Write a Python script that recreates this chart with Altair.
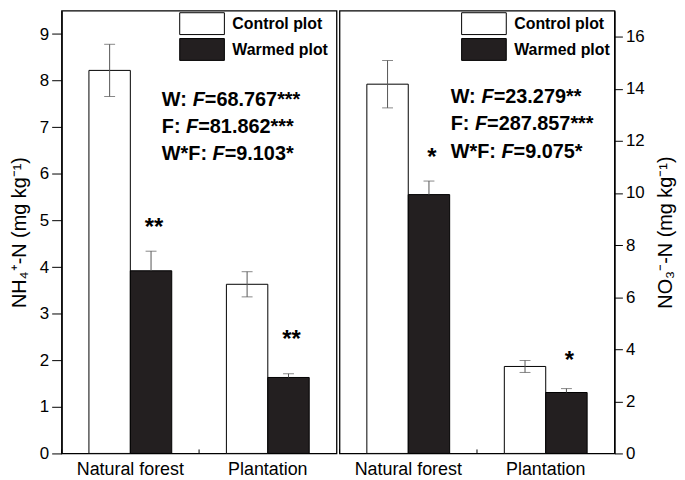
import altair as alt
import pandas as pd

FONT = "Liberation Sans"

sites = ["Natural forest", "Plantation"]
treatments = ["Control plot", "Warmed plot"]

# order: NF-control, NF-warmed, P-control, P-warmed
nh4_mean = [8.22, 3.92, 3.63, 1.63]
nh4_err = [0.56, 0.42, 0.27, 0.08]
nh4_sig = ["", "**", "", "**"]
nh4_sig_y = [0.0, 4.83, 0.0, 2.44]

no3_mean = [14.18, 9.94, 3.34, 2.34]
no3_err = [0.91, 0.52, 0.23, 0.15]
no3_sig = ["", "*", "", "*"]
no3_sig_y = [0.0, 11.36, 0.0, 3.54]

nh4_stats = [("W: ", "F", "=68.767***"), ("F: ", "F", "=81.862***"), ("W*F: ", "F", "=9.103*")]
no3_stats = [("W: ", "F", "=23.279**"), ("F: ", "F", "=287.857***"), ("W*F: ", "F", "=9.075*")]

nh4_title = "NH\u2084\u207a-N (mg kg\u207b\u00b9)"
no3_title = "NO\u2083\u207b-N (mg kg\u207b\u00b9)"

nh4_ticks = [0, 0.5, 1, 1.5, 2, 2.5, 3, 3.5, 4, 4.5, 5, 5.5, 6, 6.5, 7, 7.5, 8, 8.5, 9]
no3_ticks = list(range(0, 17))

W = 277
H = 446

COLOR_SCALE = alt.Scale(domain=treatments, range=["white", "#231f20"])

# Arial/Liberation Sans Bold advance widths (per 1000 em)
ADV = {"W": 944, ":": 333, " ": 278, "F": 611, "*": 389, "=": 584, ".": 278}
def text_w(s, size):
    return sum(ADV.get(c, 556) for c in s) * size / 1000.0


def panel(mean, err, sig, sig_y, stats, title, ymax, tick_vals, major_mod,
          major_len, minor_len, orient, legend_x, stats_x, stats_y, line_gap):
    rows = []
    k = 0
    for s in sites:
        for t in treatments:
            m, e = mean[k], err[k]
            rows.append(dict(site=s, treatment=t, value=m, err=e,
                             lo=(m - e) if t == treatments[0] else m,
                             hi=m + e, sig=sig[k], sig_y=sig_y[k]))
            k += 1
    df = pd.DataFrame(rows)

    x = alt.X("site:N", sort=sites,
              scale=alt.Scale(paddingInner=0, paddingOuter=0),
              axis=alt.Axis(title=None, labelAngle=0, labelFontSize=18,
                            domain=False, ticks=False, labelPadding=7,
                            labelFont=FONT, labelColor="black"))
    xo = alt.XOffset("treatment:N", sort=treatments,
                     scale=alt.Scale(paddingInner=0, paddingOuter=0.66))

    cond_test = f"datum.value % {major_mod} === 0"
    extra = {"titleAngle": 270, "titleBaseline": "top", "titlePadding": 12} if orient == "right" \
        else {"titlePadding": 10}
    yaxis = alt.Axis(
        title=title, orient=orient, values=tick_vals, grid=False,
        labelExpr=f"{cond_test} ? datum.label : ''",
        tickSize={"condition": {"test": cond_test, "value": major_len}, "value": minor_len},
        labelFontSize=17, titleFontSize=20, titleFontWeight="normal",
        labelPadding=3, labelFont=FONT, titleFont=FONT,
        domainColor="black", tickColor="black", labelColor="black",
        titleColor="black", domainWidth=1.3, tickWidth=1,
        **extra,
    )
    y = alt.Y("value:Q", scale=alt.Scale(domain=[0, ymax], nice=False, zero=True), axis=yaxis)

    base = alt.Chart(df).encode(x=x, xOffset=xo)

    bars = base.mark_bar(stroke="black", strokeWidth=1).encode(
        y=y,
        color=alt.Color("treatment:N", sort=treatments, scale=COLOR_SCALE, legend=None),
    )
    ecol = "#555555"
    rule = base.mark_rule(color=ecol, strokeWidth=1).encode(y="lo:Q", y2="hi:Q")
    cap_hi = base.mark_tick(color=ecol, size=11, thickness=1).encode(y="hi:Q")
    cap_lo = base.transform_filter(alt.datum.treatment == treatments[0]).mark_tick(
        color=ecol, size=11, thickness=1).encode(y="lo:Q")
    stars = base.transform_filter(alt.datum.sig != "").mark_text(
        font=FONT, fontSize=24, fontWeight="bold", baseline="middle", dx=3, dy=0,
        color="black").encode(y="sig_y:Q", text="sig:N")

    bticks = alt.Chart(pd.DataFrame({"site": sites})).mark_rule(
        color="black", strokeWidth=1).encode(
        x=alt.X("site:N", sort=sites, bandPosition=0),
        y=alt.value(H - 4), y2=alt.value(H))

    layers = [bars, rule, cap_hi, cap_lo, stars, bticks]

    # legend (key boxes + labels, filled through the same colour scale)
    for i, t in enumerate(treatments):
        y0 = 2 + i * 26
        ld = pd.DataFrame({"treatment": [t]})
        layers.append(alt.Chart(ld).mark_rect(stroke="black", strokeWidth=1).encode(
            x=alt.value(legend_x), x2=alt.value(legend_x + 45),
            y=alt.value(y0), y2=alt.value(y0 + 22),
            color=alt.Color("treatment:N", scale=COLOR_SCALE, legend=None)))
        layers.append(alt.Chart(ld).mark_text(
            font=FONT, fontSize=16, fontWeight="bold", align="left", baseline="middle",
            color="black").encode(
            x=alt.value(legend_x + 53), y=alt.value(y0 + 11.5), text="treatment:N"))

    fs = 20
    for i, (pre, fv, rest) in enumerate(stats):
        py = stats_y + i * line_gap
        x0 = stats_x
        x1 = x0 + text_w(pre, fs)
        x2 = x1 + text_w(fv, fs)
        for txt, px, style in [(pre, x0, "normal"), (fv, x1, "italic"), (rest, x2, "normal")]:
            layers.append(
                alt.Chart(pd.DataFrame({"t": [txt]})).mark_text(
                    font=FONT, fontSize=fs, fontWeight="bold", fontStyle=style,
                    align="left", baseline="alphabetic", color="black").encode(
                    x=alt.value(px), y=alt.value(py), text="t:N"))

    return alt.layer(*layers).properties(width=W, height=H)


left = panel(nh4_mean, nh4_err, nh4_sig, nh4_sig_y, nh4_stats, nh4_title, 9.5,
             nh4_ticks, 1, 10, 6, "left", 119, 101, 96, 27)
right = panel(no3_mean, no3_err, no3_sig, no3_sig_y, no3_stats, no3_title, 17,
              no3_ticks, 2, 8, 5, "right", 123, 112, 93, 27.5)

chart = alt.hconcat(left, right, spacing=0).resolve_scale(
    y="independent", color="independent").properties(
    padding={"left": 0, "top": 0, "right": 0, "bottom": 0}
).configure_view(stroke="black", strokeWidth=1.3).configure_axis(grid=False)

chart.save("out.html", embed_options={"renderer": "svg", "actions": False})
